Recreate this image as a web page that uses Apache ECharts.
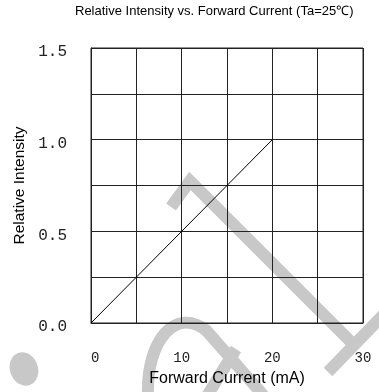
<!DOCTYPE html>
<html>
<head>
<meta charset="utf-8">
<script src="https://cdn.jsdelivr.net/npm/echarts@6/dist/echarts.min.js"></script>
<style>
  html, body { margin: 0; padding: 0; background: #fff; }
  #chart { width: 379px; height: 392px; }
</style>
</head>
<body>
<div id="chart"></div>
<script>
// data
const currentMA = [0, 20];
const relIntensity = [0, 1.0];
const xTickLabels = [0, 10, 20, 30];
const yTickLabels = [0, 0.5, 1.0, 1.5];

const chart = echarts.init(document.getElementById('chart'));

// grey watermark strokes behind the plot
const wm = { stroke: '#c8c8c8', lineWidth: 12, fill: null };

const option = {
  animation: false,
  title: {
    text: 'Relative Intensity vs. Forward Current (Ta=25\u2103)',
    left: 75,
    top: 5,
    padding: 0,
    textAlign: 'left',
    textStyle: { fontFamily: 'Liberation Sans', fontSize: 13, fontWeight: 'normal', color: '#000' }
  },
  grid: {
    left: 91, top: 48, right: 16, bottom: 69,
    outerBoundsMode: 'none',
    show: true, borderColor: '#222', borderWidth: 1
  },
  xAxis: {
    type: 'value',
    min: 0, max: 30, interval: 5,
    name: 'Forward Current (mA)',
    nameLocation: 'middle',
    nameGap: 48,
    nameTextStyle: { fontFamily: 'Liberation Sans', fontSize: 16, color: '#000' },
    axisLine: { lineStyle: { color: '#222', width: 1 } },
    axisTick: { show: false },
    splitLine: { show: true, lineStyle: { color: '#222', width: 1 } },
    axisLabel: {
      margin: 28,
      alignMinLabel: 'left',
      fontFamily: 'Liberation Mono', fontSize: 14, color: '#222',
      formatter: v => xTickLabels.includes(v) ? String(v) : ''
    }
  },
  yAxis: {
    type: 'value',
    min: 0, max: 1.5, interval: 0.25,
    name: 'Relative Intensity',
    nameLocation: 'middle',
    nameGap: 58,
    nameTextStyle: { fontFamily: 'Liberation Sans', fontSize: 15.5, color: '#000' },
    axisLine: { lineStyle: { color: '#222', width: 1 } },
    axisTick: { show: false },
    splitLine: { show: true, lineStyle: { color: '#222', width: 1 } },
    axisLabel: {
      margin: 24,
      lineHeight: 8,
      fontFamily: 'Liberation Mono', fontSize: 16, color: '#222',
      // empty first line pushes the number a few px below its grid line, like the original
      formatter: v => yTickLabels.some(t => Math.abs(t - v) < 1e-9) ? '\n' + v.toFixed(1) : ''
    }
  },
  graphic: {
    elements: [
      { type: 'ellipse', z: -10, silent: true, rotation: 0.35, originX: 24, originY: 369,
        shape: { cx: 24, cy: 369, rx: 14, ry: 17 }, style: { fill: '#c8c8c8' } },
      { type: 'polyline', z: -10, silent: true,
        shape: { points: [[171, 207], [190, 181], [354, 345]] }, style: wm },
      { type: 'polyline', z: -10, silent: true,
        shape: { points: [[388, 310], [328, 372]] }, style: wm },
      { type: 'bezierCurve', z: -10, silent: true,
        shape: { x1: 148, y1: 396, cpx1: 146, cpy1: 340, cpx2: 176, cpy2: 306, x2: 207, y2: 331 },
        style: wm },
      { type: 'polyline', z: -10, silent: true,
        shape: { points: [[205, 329], [264, 396]] }, style: wm },
      { type: 'polyline', z: -10, silent: true,
        shape: { points: [[236, 349], [207, 396]] }, style: wm }
    ]
  },
  series: [
    {
      type: 'line',
      data: currentMA.map((x, i) => [x, relIntensity[i]]),
      showSymbol: false,
      lineStyle: { color: '#000', width: 1 }
    }
  ]
};

chart.setOption(option);

window.addEventListener('resize', function () {
  chart.resize();
});
</script>
</body>
</html>
